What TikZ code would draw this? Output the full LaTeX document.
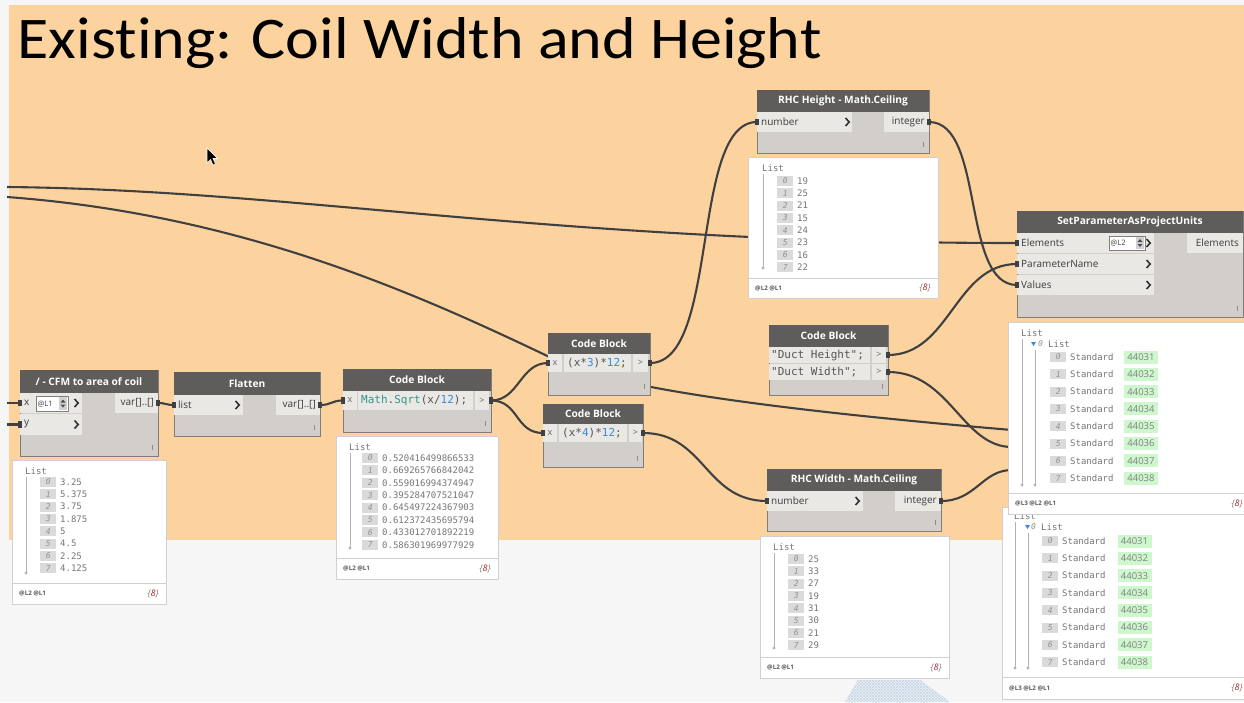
\documentclass[tikz,border=0pt]{standalone}
\usepackage{fontspec}
\usepackage{graphicx}
\setmainfont{Open Sans}
\newfontfamily\ttlfont[Ligatures=NoCommon]{Carlito}
\newfontfamily\dmono{DejaVu Sans Mono}
\usetikzlibrary{patterns}

\definecolor{bgor}{RGB}{252,211,159}
\definecolor{canvasc}{RGB}{246,246,246}
\definecolor{hdrc}{RGB}{95,93,91}
\definecolor{bodyc}{RGB}{210,206,201}
\definecolor{portc}{RGB}{234,232,228}
\definecolor{bordc}{RGB}{128,125,121}
\definecolor{wirec}{RGB}{64,64,64}
\definecolor{lbord}{RGB}{208,208,208}
\definecolor{idxc}{RGB}{218,218,218}
\definecolor{idxt}{RGB}{145,145,145}
\definecolor{valt}{RGB}{118,118,118}
\definecolor{grnc}{RGB}{206,247,206}
\definecolor{codeteal}{RGB}{52,150,138}
\definecolor{codeblue}{RGB}{58,138,222}
\definecolor{codedark}{RGB}{85,85,85}
\definecolor{redc}{RGB}{170,40,40}
\definecolor{hatchc}{RGB}{200,215,230}
\definecolor{hatchbg}{RGB}{236,241,246}
\definecolor{lblc}{RGB}{60,60,60}

\pgfdeclarelayer{back}
\pgfdeclarelayer{wires}
\pgfsetlayers{back,wires,main}

% Dynamo node: name, x1, y1, x2, y2, header height, title
\newcommand{\dyn}[7]{%
  \node[nbody, minimum width={#4pt-#2pt}, minimum height={#5pt-#3pt}] (#1) at (#2,#3) {};
  \node[nhdr, minimum width={#4pt-#2pt}, minimum height=#6pt] (#1-h) at (#2,#3) {#7};
  \draw[tickst] ({#4-6},{#5-11}) -- ({#4-6},{#5-6});
}
% input port: name, x, y, w, h, label
\newcommand{\pin}[6]{%
  \node[pbox, minimum width=#4pt, minimum height=#5pt] (#1) at (#2,#3) {};
  \node[plbl, anchor=west] (#1-t) at (#1.west) {#6};
}
% output port
\newcommand{\pout}[6]{%
  \node[pbox, minimum width=#4pt, minimum height=#5pt] (#1) at (#2,#3) {};
  \node[plbl, anchor=east] (#1-t) at (#1.east) {#6};
}
\newcommand{\chev}[2]{\draw[chevst] ({#1-2.5},{#2-4}) -- ({#1+1.2},{#2}) -- ({#1-2.5},{#2+4});}
\newcommand{\cell}[5]{\node[pbox, minimum width=#4pt, minimum height=#5pt] (#1) at (#2,#3) {};}
% spinner: name x1 y1 x2 y2 text
\newcommand{\spin}[6]{%
  \node[spinbox, minimum width={#4pt-#2pt}, minimum height={#5pt-#3pt}] (#1) at (#2,#3) {};
  \node[spintxt, anchor=west] (#1-t) at (#1.west) {#6};
  \fill[black!18] ({#4-9},{#3+1}) rectangle ({#4-1},{#5-1});
  \fill[black!70] ({#4-7.5},{(#3+#5)/2-1}) -- ({#4-2.5},{(#3+#5)/2-1}) -- ({#4-5},{(#3+#5)/2-4}) -- cycle;
  \fill[black!70] ({#4-7.5},{(#3+#5)/2+1}) -- ({#4-2.5},{(#3+#5)/2+1}) -- ({#4-5},{(#3+#5)/2+4}) -- cycle;
}
% preview list box: name x1 y1 x2 y2 footY foottext
\newcommand{\dlist}[7]{%
  \node[lbox, minimum width={#4pt-#2pt}, minimum height={#5pt-#3pt}] (#1) at (#2,#3) {};
  \draw[lbord, line width=0.9pt] (#2,#6) -- (#4,#6);
  \node[foot, anchor=west] (#1-f) at ({#2+7},{(#6+#5)/2}) {#7};
  \node[cnt, anchor=east] (#1-c) at ({#4-7},{(#6+#5)/2}) {\{\textcolor{redc}{8}\}};
}
% list head: name, x, y, bottom of guide
\newcommand{\lhead}[4]{%
  \node[ltxt] (#1) at (#2,#3) {List};
  \draw[black!30, line width=0.8pt] ({#2+1},{#3+6}) -- ({#2+1},#4);
  \fill[black!30] ({#2+1},#4) circle[radius=1.7pt];
}
\newcommand{\litem}[5]{%
  \node[idxbox, anchor=west] (#1-i) at (#2,{#3}) {#4};
  \node[ltxt] (#1-v) at ({#2+20},{#3}) {#5};
}
\newcommand{\gitem}[6]{%
  \node[idxbox, anchor=west] (#1-i) at (#2,{#3}) {#4};
  \node[ltxt] (#1-s) at ({#2+20},{#3}) {Standard};
  \node[gbox] (#1-g) at (#5,{#3}) {#6};
}
\newcommand{\nub}[1]{\fill[wirec] (#1) ++(-1.8,-3.2) rectangle ++(3.6,6.4);}

\begin{document}
\begin{tikzpicture}[x=1pt,y=-1pt,
  wire/.style={draw=wirec, line width=2.1pt},
  nbody/.style={fill=bodyc, draw=bordc, line width=0.9pt, anchor=north west, inner sep=0pt, outer sep=0pt},
  nhdr/.style={fill=hdrc, anchor=north west, inner sep=0pt, outer sep=0pt, text=white, font=\fontsize{10.2}{12}\selectfont\bfseries},
  pbox/.style={fill=portc, anchor=north west, inner sep=0pt, outer sep=0pt},
  plbl/.style={inner xsep=4pt, inner ysep=0pt, text=lblc, font=\fontsize{10}{12}\selectfont},
  ctxt/.style={inner xsep=3pt, inner ysep=0pt, font=\dmono\fontsize{11}{13}\selectfont, text=codedark},
  gtxt/.style={inner sep=0pt, font=\fontsize{9}{10}\selectfont, text=black!60},
  chevst/.style={draw=black!80, line width=1.6pt},
  tickst/.style={draw=black!45, line width=0.9pt},
  spinbox/.style={fill=white, draw=black!50, line width=0.6pt, anchor=north west, inner sep=0pt},
  spintxt/.style={inner xsep=1.5pt, inner ysep=0pt, font=\fontsize{7.5}{9}\selectfont, text=black!75},
  lbox/.style={fill=white, draw=lbord, line width=0.9pt, anchor=north west, inner sep=0pt},
  foot/.style={inner sep=0pt, font=\fontsize{6.2}{7}\selectfont\bfseries, text=black!65},
  cnt/.style={inner sep=0pt, font=\fontsize{9}{10}\selectfont\itshape, text=black!50},
  ltxt/.style={inner sep=0pt, anchor=west, font=\dmono\fontsize{9}{10}\selectfont, text=valt},
  idxbox/.style={fill=idxc, minimum width=16pt, minimum height=10pt, inner sep=0pt, font=\dmono\itshape\fontsize{8}{9}\selectfont, text=idxt},
  gbox/.style={fill=grnc, minimum width=34pt, minimum height=13pt, inner sep=0pt, font=\fontsize{9.5}{10}\selectfont, text=black!50},
]
\useasboundingbox (0,0) rectangle (1244,702);

\begin{pgfonlayer}{back}
  \fill[canvasc] (0,0) rectangle (1244,702);
  \fill[bgor] (9,5) rectangle (1244,540);
  \fill[hatchbg] (845,702) -- (858,680) -- (920,680) -- (950,702) -- cycle;
  \fill[pattern=north east lines, pattern color=hatchc] (845,702) -- (858,680) -- (920,680) -- (950,702) -- cycle;
  \fill[pattern=north west lines, pattern color=hatchc] (845,702) -- (858,680) -- (920,680) -- (950,702) -- cycle;
\end{pgfonlayer}

% title
\node[anchor=base west, inner sep=0pt] (title) at (17.5,58) {\resizebox{804pt}{41pt}{\ttlfont\fontsize{60}{72}\selectfont Existing: Coil Width and Height}};

% ---------- nodes ----------
% / - CFM to area of coil
\dyn{A}{20}{370}{158}{456}{23}{/ - CFM to area of coil}
\pin{Ax}{20}{393}{62}{20}{x}
\pin{Ay}{20}{414}{62}{21}{y}
\pout{Ao}{115}{393}{43}{20}{var[]..[]}
\spin{As}{36}{396}{68}{411}{@L1}
\chev{77}{403}
\chev{77}{424.5}

% Flatten
\dyn{F}{174}{372}{320}{436}{23}{Flatten}
\pin{Fl}{174}{395}{69}{20}{list}
\chev{238}{405}
\pout{Fo}{276}{395}{44}{20}{var[]..[]}

% Code Block sqrt
\dyn{C1}{343}{369}{491}{432}{22}{Code Block}
\cell{C1x}{343}{391}{14}{19}
\cell{C1c}{358}{391}{115}{19}
\cell{C1o}{475}{391}{14}{19}
\node[gtxt] (C1x-t) at (C1x.center) {x};
\node[ctxt, anchor=west] (C1c-t) at (C1c.west) {\textcolor{codeteal}{Math}.\textcolor{codeteal}{Sqrt}(x/\textcolor{codeblue}{12});};
\node[gtxt] (C1o-t) at (C1o.center) {>};

% Code Block x*3
\dyn{C3}{548}{333}{650}{395}{21}{Code Block}
\cell{C3x}{548}{354}{14}{18}
\cell{C3c}{564}{354}{67}{18}
\cell{C3o}{633}{354}{15}{18}
\node[gtxt] (C3x-t) at (C3x.center) {x};
\node[ctxt, anchor=west] (C3c-t) at (C3c.west) {(x*\textcolor{codeblue}{3})*\textcolor{codeblue}{12};};
\node[gtxt] (C3o-t) at (C3o.center) {>};

% Code Block x*4
\dyn{C4}{543}{404}{643}{467}{20}{Code Block}
\cell{C4x}{543}{424}{14}{18}
\cell{C4c}{559}{424}{68}{18}
\cell{C4o}{629}{424}{13}{18}
\node[gtxt] (C4x-t) at (C4x.center) {x};
\node[ctxt, anchor=west] (C4c-t) at (C4c.west) {(x*\textcolor{codeblue}{4})*\textcolor{codeblue}{12};};
\node[gtxt] (C4o-t) at (C4o.center) {>};

% RHC Height
\dyn{RH}{757}{90}{929}{153}{22}{RHC Height - Math.Ceiling}
\pin{RHn}{757}{112}{95}{20}{number}
\chev{848}{122}
\pout{RHi}{884}{112}{45}{20}{integer}

% RHC Width
\dyn{RW}{767}{469}{941}{531}{22}{RHC Width - Math.Ceiling}
\pin{RWn}{767}{491}{96}{20}{number}
\chev{858}{501}
\pout{RWi}{895}{491}{46}{20}{integer}

% SetParameterAsProjectUnits
\dyn{SP}{1017}{211}{1243}{317}{22}{SetParameterAsProjectUnits}
\pin{SPe}{1017}{233}{137}{20}{Elements}
\pin{SPp}{1017}{254}{137}{20}{ParameterName}
\pin{SPv}{1017}{275}{137}{20}{Values}
\chev{1149}{243}
\chev{1149}{264}
\chev{1149}{285}
\spin{SPs}{1109}{236}{1145}{250}{@L2}
\pout{SPo}{1187}{233}{56}{20}{Elements}

% Code Block strings
\dyn{CD}{769}{325}{888}{395}{22}{Code Block}
\cell{CDc1}{769}{347}{101}{16}
\cell{CDo1}{872}{347}{14}{16}
\cell{CDc2}{769}{364}{101}{16}
\cell{CDo2}{872}{364}{14}{16}
\node[ctxt, anchor=west, inner xsep=2pt] (CDc1-t) at (CDc1.west) {"Duct Height";};
\node[ctxt, anchor=west, inner xsep=2pt] (CDc2-t) at (CDc2.west) {"Duct Width";};
\node[gtxt] (CDo1-t) at (CDo1.center) {>};
\node[gtxt] (CDo2-t) at (CDo2.center) {>};

% ---------- wires ----------
\coordinate (w1s) at (7,187);
\coordinate (w2s) at (7,197);
\coordinate (w2m) at (560,362);
\coordinate (w2e) at (1012,430);
\coordinate (w9e) at (1012,447);
\coordinate (w10e) at (1012,470);
\coordinate (w13s) at (7,403);
\coordinate (w14s) at (7,424.5);
\begin{pgfonlayer}{wires}
  \draw[wire] (w1s) .. controls (300,190) and (550,243) .. (SPe.west);
  \draw[wire] (w2s) .. controls (250,215) and (430,300) .. (w2m) .. controls (620,390) and (800,412) .. (w2e);
  \draw[wire] (C1.east |- C1o.center) .. controls +(28,0) and +(-28,0) .. (C3.west |- C3x.center);
  \draw[wire] (C1.east |- C1o.center) .. controls +(28,0) and +(-28,0) .. (C4.west |- C4x.center);
  \draw[wire] (C3.east |- C3o.center) .. controls +(70,0) and +(-67,0) .. (RHn.west);
  \draw[wire] (C4.east |- C4o.center) .. controls +(62,0) and +(-62,0) .. (RWn.west);
  \draw[wire] (RHi.east) .. controls +(56,0) and +(-56,0) .. (SPv.west);
  \draw[wire] (CD.east |- CDo1.center) .. controls +(62,0) and +(-62,0) .. (SPp.west);
  \draw[wire] (CD.east |- CDo2.center) .. controls +(62,0) and +(-50,0) .. (w9e);
  \draw[wire] (RWi.east) .. controls +(35,0) and +(-30,0) .. (w10e);
  \draw[wire] (Ao.east) .. controls +(8,0) and +(-8,0) .. (Fl.west);
  \draw[wire] (Fo.east) .. controls +(12,0) and +(-12,0) .. (C1.west |- C1x.center);
  \draw[wire] (w13s) -- (Ax.west);
  \draw[wire] (w14s) -- (Ay.west);
\end{pgfonlayer}
\nub{Ax.west}\nub{Ay.west}\nub{Ao.east}\nub{Fl.west}\nub{Fo.east}
\nub{C1.west |- C1x.center}\nub{C1.east |- C1o.center}
\nub{C3.west |- C3x.center}\nub{C3.east |- C3o.center}
\nub{C4.west |- C4x.center}\nub{C4.east |- C4o.center}
\nub{RHn.west}\nub{RHi.east}\nub{RWn.west}\nub{RWi.east}
\nub{SPe.west}\nub{SPp.west}\nub{SPv.west}
\nub{CD.east |- CDo1.center}\nub{CD.east |- CDo2.center}

% ---------- preview lists ----------
\dlist{LA}{12}{460}{166}{604}{583}{@L2 @L1}
\lhead{LA-h}{25}{471}{573}
\foreach \v [count=\k from 0] in {3.25,5.375,3.75,1.875,5,4.5,2.25,4.125}{
  \litem{la\k}{40}{482+12.3*\k}{\k}{\v}
}

\dlist{LC}{336}{436}{498}{579}{558}{@L2 @L1}
\lhead{LC-h}{349}{447}{548}
\foreach \v [count=\k from 0] in {0.520416499866533,0.669265766842042,0.559016994374947,0.395284707521047,0.645497224367903,0.612372435695794,0.433012701892219,0.586301969977929}{
  \litem{lc\k}{362}{458+12.4*\k}{\k}{\v}
}

\dlist{LH}{748}{157}{938}{298}{278}{@L2 @L1}
\lhead{LH-h}{762}{168}{268}
\foreach \v [count=\k from 0] in {19,25,21,15,24,23,16,22}{
  \litem{lh\k}{777}{181+12.3*\k}{\k}{\v}
}

\dlist{LW}{760}{536}{949}{678}{657}{@L2 @L1}
\lhead{LW-h}{773}{547}{648}
\foreach \v [count=\k from 0] in {25,33,27,19,31,30,21,29}{
  \litem{lw\k}{788}{559+12.3*\k}{\k}{\v}
}

% bottom right list (behind)
\dlist{LB}{1002}{507}{1250}{699}{677}{@L3 @L2 @L1}
\lhead{LB-h}{1014}{516}{668}
\fill[codeblue] (1025,525) -- (1030,525) -- (1027.5,529) -- cycle;
\node[idxbox, fill=none, minimum width=0pt, anchor=west] (LB-s0) at (1031,527) {0};
\node[ltxt] (LB-s) at (1041,527) {List};
\draw[black!30, line width=0.8pt] (1028,533) -- (1028,668);
\fill[black!30] (1028,668) circle[radius=1.7pt];
\foreach \k in {0,...,7}{
  \gitem{lb\k}{1042}{541+17.3*\k}{\k}{1134.5}{\number\numexpr44031+\k\relax}
}

% top right list
\dlist{LT}{1008}{322}{1250}{514}{493}{@L3 @L2 @L1}
\lhead{LT-h}{1021}{333}{485}
\fill[codeblue] (1031,342) -- (1036,342) -- (1033.5,346) -- cycle;
\node[idxbox, fill=none, minimum width=0pt, anchor=west] (LT-s0) at (1038,344) {0};
\node[ltxt] (LT-s) at (1048,344) {List};
\draw[black!30, line width=0.8pt] (1035,350) -- (1035,485);
\fill[black!30] (1035,485) circle[radius=1.7pt];
\foreach \k in {0,...,7}{
  \gitem{lt\k}{1050}{357+17.3*\k}{\k}{1141}{\number\numexpr44031+\k\relax}
}

% mouse cursor
\filldraw[fill=black, draw=white, line width=0.6pt] (207,148) -- (207,163) -- (210.5,159.5) -- (213,165) -- (215.5,164) -- (213,158.5) -- (217.5,158.5) -- cycle;
\end{tikzpicture}
\end{document}
